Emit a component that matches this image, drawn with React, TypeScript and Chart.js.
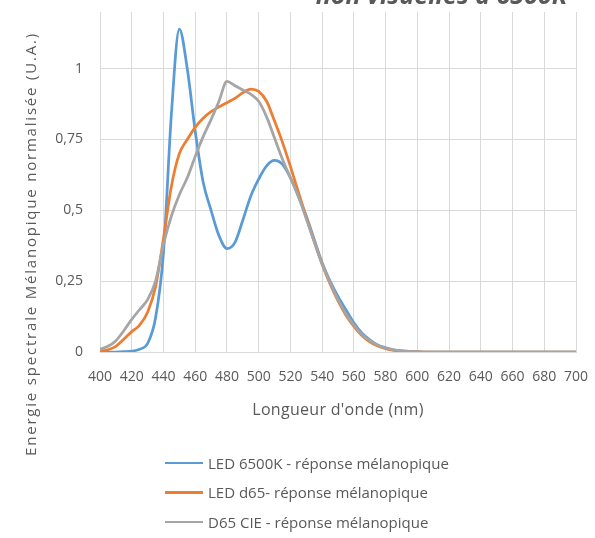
import React, { useEffect, useRef } from 'react';
import { Chart, registerables } from 'chart.js';

Chart.register(...registerables);

const wavelengths = [
  400, 405, 410, 415, 420, 425, 430, 435, 440, 445, 450, 455, 460, 465, 470, 475, 480, 485, 490, 495,
  500, 505, 510, 515, 520, 525, 530, 535, 540, 545, 550, 555, 560, 565, 570, 575, 580, 585, 590, 595,
  600, 605, 610, 615, 620, 625, 630, 635, 640, 645, 650, 655, 660, 665, 670, 675, 680, 685, 690, 695, 700,
];

const led6500k = [
  0, 0, 0, 0.001, 0.003, 0.01, 0.03, 0.12, 0.35, 0.84, 1.14, 1.0, 0.78, 0.6, 0.5, 0.41, 0.365, 0.386, 0.465, 0.55,
  0.61, 0.657, 0.676, 0.662, 0.615, 0.55, 0.48, 0.397, 0.315, 0.25, 0.196, 0.149, 0.103, 0.067, 0.043, 0.025, 0.015, 0.008, 0.004, 0.002,
  0.001, 0, 0, 0, 0, 0, 0, 0, 0, 0, 0, 0, 0, 0, 0, 0, 0, 0, 0, 0, 0,
];

const ledD65 = [
  0.003, 0.008, 0.02, 0.045, 0.072, 0.095, 0.14, 0.23, 0.4, 0.585, 0.7, 0.75, 0.793, 0.825, 0.848, 0.865, 0.88, 0.895, 0.915, 0.928,
  0.92, 0.885, 0.815, 0.74, 0.655, 0.565, 0.475, 0.39, 0.31, 0.24, 0.18, 0.13, 0.09, 0.058, 0.036, 0.021, 0.012, 0.006, 0.003, 0.002,
  0.001, 0, 0, 0, 0, 0, 0, 0, 0, 0, 0, 0, 0, 0, 0, 0, 0, 0, 0, 0, 0,
];

const d65Cie = [
  0.01, 0.02, 0.04, 0.075, 0.115, 0.15, 0.185, 0.25, 0.38, 0.48, 0.555, 0.615, 0.69, 0.76, 0.82, 0.885, 0.955, 0.94, 0.925, 0.91,
  0.885, 0.83, 0.755, 0.68, 0.615, 0.55, 0.47, 0.39, 0.31, 0.245, 0.185, 0.135, 0.095, 0.063, 0.04, 0.024, 0.014, 0.008, 0.004, 0.002,
  0.001, 0, 0, 0, 0, 0, 0, 0, 0, 0, 0, 0, 0, 0, 0, 0, 0, 0, 0, 0, 0,
];

const xTicks = [400, 420, 440, 460, 480, 500, 520, 540, 560, 580, 600, 620, 640, 660, 680, 700];
const yTicks = [0, 0.25, 0.5, 0.75, 1];

const seriesLabels = [
  'LED 6500K - réponse mélanopique',
  'LED d65- réponse mélanopique',
  'D65 CIE - réponse mélanopique',
];
const seriesColors = ['#5B9BD5', '#ED7D31', '#A5A5A5'];

const chartTitle = 'non visuelles à 6500K';
const xTitle = "Longueur d'onde (nm)";
const yTitle = 'Energie spectrale Mélanopique normalisée (U.A.)';

const FONT = "'Open Sans', 'Noto Sans', sans-serif";
const TEXT = '#595959';
const GRID = '#D9D9D9';

const W = 595;
const H = 538;

export default function App() {
  const canvasRef = useRef<HTMLCanvasElement | null>(null);

  useEffect(() => {
    const canvas = canvasRef.current;
    if (!canvas) return;
    const toPts = (vals: number[]) => wavelengths.map((x, i) => ({ x, y: vals[i] }));
    const series = [led6500k, ledD65, d65Cie];

    const textPlugin = {
      id: 'texts',
      afterDraw(chart: any) {
        const ctx = chart.ctx;
        const area = chart.chartArea;
        ctx.save();
        ctx.fillStyle = TEXT;
        // cut-off chart title
        ctx.font = `italic bold 25px ${FONT}`;
        ctx.textAlign = 'right';
        ctx.textBaseline = 'alphabetic';
        ctx.fillText(chartTitle, 567, 4);
        // x title
        ctx.font = `16px ${FONT}`;
        ctx.textAlign = 'center';
        ctx.textBaseline = 'middle';
        (ctx as any).letterSpacing = '0.3px';
        ctx.fillText(xTitle, (area.left + area.right) / 2, 410);
        // y title
        ctx.translate(32, 244);
        ctx.rotate(-Math.PI / 2);
        ctx.font = `15px ${FONT}`;
        (ctx as any).letterSpacing = '1.8px';
        ctx.fillText(yTitle, 0, 0);
        ctx.restore();
      },
    };

    const chart = new Chart(canvas, {
      type: 'line',
      data: {
        datasets: series.map((vals, i) => ({
          label: seriesLabels[i],
          data: toPts(vals),
          borderColor: seriesColors[i],
          backgroundColor: seriesColors[i],
          borderWidth: 2.75,
          pointRadius: 0,
          fill: false,
          cubicInterpolationMode: 'monotone' as const,
          order: 2 - i,
        })),
      },
      options: {
        responsive: false,
        animation: false,
        layout: { padding: { top: 12, right: 19, left: 0, bottom: 0 } },
        plugins: {
          legend: { display: false },
          tooltip: { enabled: false },
          title: { display: false },
        },
        scales: {
          x: {
            type: 'linear',
            min: 400,
            max: 700,
            afterBuildTicks: (scale: any) => {
              scale.ticks = xTicks.map((v) => ({ value: v }));
            },
            afterFit: (scale: any) => {
              scale.height = H - 352;
              scale.paddingLeft = 0;
              scale.paddingRight = 0;
            },
            grid: { color: GRID, lineWidth: 1, drawTicks: false },
            border: { color: GRID, width: 1 },
            ticks: {
              padding: 17,
              color: TEXT,
              font: { family: FONT, size: 14 },
              maxRotation: 0,
              autoSkip: false,
              callback: (v: any) => String(v),
            },
          },
          y: {
            type: 'linear',
            min: 0,
            max: 1.2,
            afterBuildTicks: (scale: any) => {
              scale.ticks = yTicks.map((v) => ({ value: v }));
            },
            afterFit: (scale: any) => {
              scale.width = 100;
              scale.paddingTop = 0;
              scale.paddingBottom = 0;
            },
            grid: { color: GRID, lineWidth: 1, drawTicks: false },
            border: { display: false },
            ticks: {
              padding: 17,
              color: TEXT,
              font: { family: FONT, size: 14 },
              callback: (v: any) => String(v).replace('.', ','),
            },
          },
        },
      },
      plugins: [textPlugin],
    });
    return () => chart.destroy();
  }, []);

  return (
    <div style={{ position: 'absolute', left: 0, top: 0, width: W, height: H, background: '#fff', overflow: 'hidden' }}>
      <canvas ref={canvasRef} width={W} height={H} style={{ display: 'block' }} />
      <div style={{ position: 'absolute', left: 165, top: 448, fontFamily: FONT, fontSize: 15, color: TEXT }}>
        {seriesLabels.map((lab, i) => (
          <div key={lab} style={{ display: 'flex', alignItems: 'center', height: 29.5 }}>
            <span style={{ display: 'inline-block', width: 38, height: 2.5, background: seriesColors[i], marginRight: 5 }} />
            <span>{lab}</span>
          </div>
        ))}
      </div>
    </div>
  );
}
